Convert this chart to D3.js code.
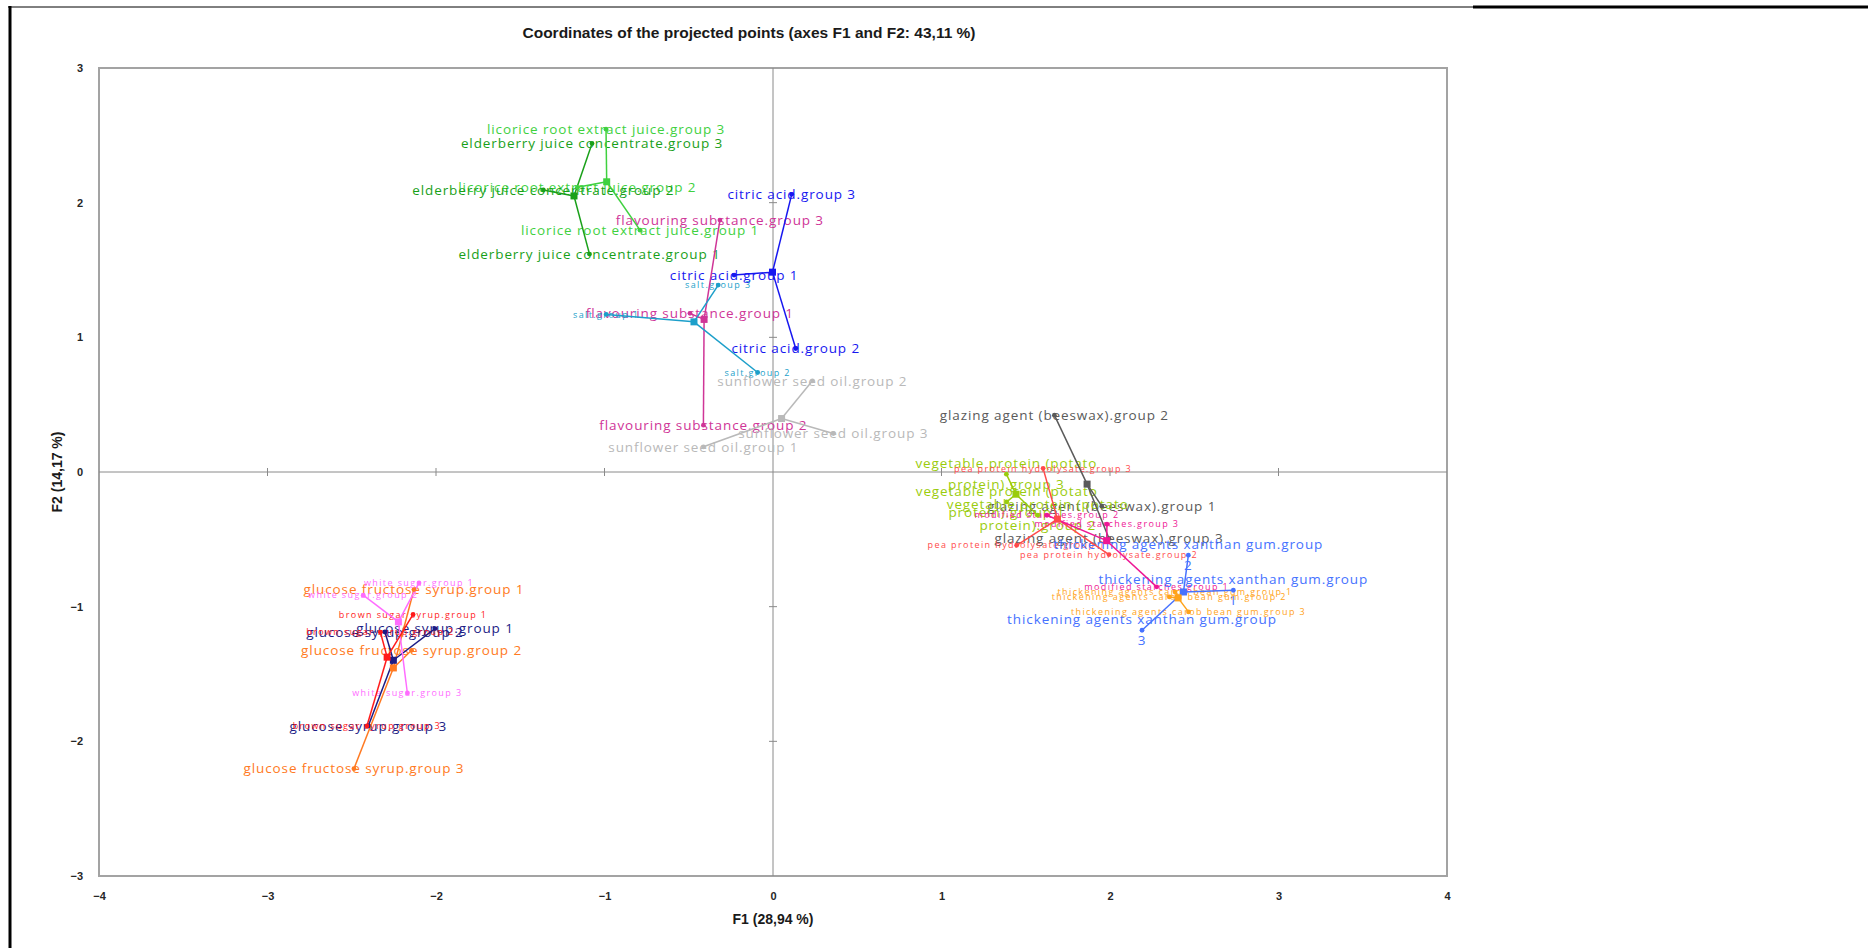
<!DOCTYPE html>
<html>
<head>
<meta charset="utf-8">
<script src="https://cdn.jsdelivr.net/npm/d3@7"></script>
<style>
  html, body { margin: 0; padding: 0; background: #ffffff; }
  svg { display: block; }
</style>
</head>
<body>
<svg id="chart" width="1868" height="948"></svg>
<script>
// Products: each one has a centroid (square) and three group observations (dots)
const products = [
  "licorice root extract juice",
  "elderberry juice concentrate",
  "citric acid",
  "flavouring substance",
  "salt",
  "sunflower seed oil",
  "glazing agent (beeswax)",
  "vegetable protein (potato protein)",
  "pea protein hydrolysate",
  "modified starches",
  "thickening agents xanthan gum",
  "thickening agents carob bean gum",
  "glucose fructose syrup",
  "glucose syrup",
  "white sugar",
  "brown sugar syrup"
];

// Centroid coordinates on F1 / F2
const centroidF1 = [-0.987, -1.181, -0.003, -0.409, -0.469, 0.051, 1.864, 1.442, 1.688, 1.980, 2.436, 2.404, -2.253, -2.253, -2.223, -2.290];
const centroidF2 = [ 2.155,  2.050,  1.484,  1.133,  1.115, 0.397, -0.090, -0.165, -0.350, -0.510, -0.891, -0.935, -1.455, -1.398, -1.113, -1.375];

// Group observations: [group 1, group 2, group 3] per product
const groupF1 = [
  [-0.789, -1.161, -0.991],
  [-1.089, -1.363, -1.074],
  [-0.231,  0.135,  0.111],
  [-0.493, -0.413, -0.315],
  [-0.990, -0.091, -0.325],
  [-0.413,  0.234,  0.358],
  [ 1.951,  1.670,  1.994],
  [ 1.387,  1.571,  1.385],
  [ 1.446,  1.994,  1.603],
  [ 2.277,  1.626,  1.982],
  [ 2.732,  2.465,  2.190],
  [ 2.386,  2.352,  2.466],
  [-2.131, -2.145, -2.487],
  [-2.006, -2.303, -2.402],
  [-2.101, -2.432, -2.170],
  [-2.136, -2.330, -2.410]
];
const groupF2 = [
  [ 1.796,  2.114,  2.546],
  [ 1.618,  2.094,  2.440],
  [ 1.462,  0.917,  2.062],
  [ 1.178,  0.348,  1.871],
  [ 1.170,  0.739,  1.388],
  [ 0.187,  0.677,  0.286],
  [-0.254,  0.422, -0.494],
  [-0.222, -0.321, -0.016],
  [-0.544, -0.613,  0.027],
  [-0.853, -0.321, -0.388],
  [-0.878, -0.618, -1.175],
  [-0.891, -0.928, -1.039],
  [-0.873, -1.324, -2.203],
  [-1.163, -1.188, -1.886],
  [-0.824, -0.915, -1.641],
  [-1.058, -1.190, -1.886]
];
const groupNames = ["group 1", "group 2", "group 3"];

const xTicks = [-4, -3, -2, -1, 0, 1, 2, 3, 4];
const yTicks = [-3, -2, -1, 0, 1, 2, 3];

const chartTitle = "Coordinates of the projected points (axes F1 and F2: 43,11 %)";
const xTitle = "F1 (28,94 %)";
const yTitle = "F2 (14,17 %)";

// Styling
const productColors = [
  "#3fd13f", "#19a019", "#1717f0", "#cf3597", "#1c9fca", "#b9b9b9", "#5a5a5a", "#9acc0c",
  "#ff4a4a", "#ee1795", "#4672ff", "#ffa31a", "#ff7a22", "#1c1c85", "#ff6cff", "#ff1a1a"
];
const smallLabelProducts = new Set([
  "salt", "pea protein hydrolysate", "modified starches",
  "thickening agents carob bean gum", "white sugar", "brown sugar syrup"
]);

const svg = d3.select("#chart");
const W = 1868, H = 948;
const plot = { left: 99, right: 1447, top: 68, bottom: 876 };

const x = d3.scaleLinear().domain([-4, 4]).range([plot.left, plot.right]);
const y = d3.scaleLinear().domain([-3, 3]).range([plot.bottom, plot.top]);

// Page frame lines
svg.append("line").attr("x1", 10).attr("x2", 10).attr("y1", 6).attr("y2", H)
  .attr("stroke", "#000").attr("stroke-width", 3);
svg.append("line").attr("x1", 8).attr("x2", 1474).attr("y1", 7).attr("y2", 7)
  .attr("stroke", "#000").attr("stroke-width", 1);
svg.append("line").attr("x1", 1473).attr("x2", W).attr("y1", 7).attr("y2", 7)
  .attr("stroke", "#000").attr("stroke-width", 3);

const axisFont = "'Liberation Sans Narrow', 'Liberation Sans', sans-serif";

// Title
svg.append("text")
  .attr("x", 749).attr("y", 38)
  .attr("text-anchor", "middle")
  .style("font-family", axisFont)
  .style("font-weight", "bold")
  .style("font-size", "15.5px")
  .attr("fill", "#1a1a1a")
  .text(chartTitle);

// Plot frame
svg.append("rect")
  .attr("x", plot.left).attr("y", plot.top)
  .attr("width", plot.right - plot.left).attr("height", plot.bottom - plot.top)
  .attr("fill", "none").attr("stroke", "#a3a3a3").attr("stroke-width", 2);

// Zero lines with small unit ticks
const g0 = svg.append("g").attr("stroke", "#8a8a8a").attr("stroke-width", 1);
g0.append("line").attr("x1", plot.left).attr("x2", plot.right).attr("y1", y(0)).attr("y2", y(0));
g0.append("line").attr("x1", x(0)).attr("x2", x(0)).attr("y1", plot.top).attr("y2", plot.bottom);
g0.selectAll("line.xt").data(xTicks.filter(d => d !== 0 && Math.abs(d) < 4)).join("line")
  .attr("class", "xt")
  .attr("x1", d => x(d)).attr("x2", d => x(d))
  .attr("y1", y(0) - 4).attr("y2", y(0) + 4);
g0.selectAll("line.yt").data(yTicks.filter(d => d !== 0 && Math.abs(d) < 3)).join("line")
  .attr("class", "yt")
  .attr("y1", d => y(d)).attr("y2", d => y(d))
  .attr("x1", x(0) - 4).attr("x2", x(0) + 4);

// Axes: tick labels only, via d3 axis generators
const xAxis = svg.append("g")
  .attr("transform", `translate(0,${plot.bottom + 13})`)
  .call(d3.axisBottom(x).tickValues(xTicks).tickSize(0).tickFormat(d3.format("d")));
const yAxis = svg.append("g")
  .attr("transform", `translate(${plot.left - 13},0)`)
  .call(d3.axisLeft(y).tickValues(yTicks).tickSize(0).tickFormat(d3.format("d")));
[xAxis, yAxis].forEach(a => {
  a.select(".domain").remove();
  a.selectAll("text")
    .style("font-family", axisFont)
    .style("font-weight", "bold")
    .style("font-size", "11px")
    .attr("fill", "#262626");
});
xAxis.selectAll("text").attr("dy", "0.71em");

svg.append("text")
  .attr("x", x(0)).attr("y", 924)
  .attr("text-anchor", "middle")
  .style("font-family", axisFont).style("font-weight", "bold").style("font-size", "14px")
  .attr("fill", "#1a1a1a")
  .text(xTitle);
svg.append("text")
  .attr("transform", `translate(62,${y(0)}) rotate(-90)`)
  .attr("text-anchor", "middle")
  .style("font-family", axisFont).style("font-weight", "bold").style("font-size", "14px")
  .attr("fill", "#1a1a1a")
  .text(yTitle);

// Flatten observations
const obs = [];
products.forEach((p, i) => {
  groupNames.forEach((gName, k) => {
    obs.push({ product: p, idx: i, label: `${p}.${gName}`, f1: groupF1[i][k], f2: groupF2[i][k] });
  });
});

const labelFont = "'Open Sans', 'Noto Sans', sans-serif";
const maxLabelWidth = 274;

// Labels (wrapped by word when too wide)
const labelLayer = svg.append("g");
obs.forEach(o => {
  const small = smallLabelProducts.has(o.product);
  const t = labelLayer.append("text")
    .attr("text-anchor", "middle")
    .style("font-family", labelFont)
    .style("font-size", small ? "9px" : "13.5px")
    .style("letter-spacing", small ? "1.4px" : "0.9px")
    .attr("fill", productColors[o.idx]);
  const words = o.label.split(" ");
  const lines = [];
  let cur = [];
  const probe = t.append("tspan");
  words.forEach(w => {
    const trial = cur.concat([w]).join(" ");
    probe.text(trial);
    if (cur.length && probe.node().getComputedTextLength() > maxLabelWidth) {
      lines.push(cur.join(" "));
      cur = [w];
    } else {
      cur.push(w);
    }
  });
  lines.push(cur.join(" "));
  probe.remove();
  const lineGap = 21;
  const x0 = x(o.f1), y0 = y(o.f2);
  lines.forEach((ln, j) => {
    t.append("tspan")
      .attr("x", x0)
      .attr("y", y0 + (j - (lines.length - 1) / 2) * lineGap)
      .attr("dy", "0.35em")
      .text(ln);
  });
});

// Star lines from centroid to each group observation
const lineLayer = svg.append("g");
obs.forEach(o => {
  lineLayer.append("line")
    .attr("x1", x(centroidF1[o.idx])).attr("y1", y(centroidF2[o.idx]))
    .attr("x2", x(o.f1)).attr("y2", y(o.f2))
    .attr("stroke", productColors[o.idx])
    .attr("stroke-width", 1.5);
});

// Observation dots
svg.append("g").selectAll("circle").data(obs).join("circle")
  .attr("cx", d => x(d.f1)).attr("cy", d => y(d.f2))
  .attr("r", 2.4)
  .attr("fill", d => productColors[d.idx]);

// Centroid squares
svg.append("g").selectAll("rect").data(products).join("rect")
  .attr("x", (d, i) => x(centroidF1[i]) - 3.5)
  .attr("y", (d, i) => y(centroidF2[i]) - 3.5)
  .attr("width", 7).attr("height", 7)
  .attr("fill", (d, i) => productColors[i]);
</script>
</body>
</html>
